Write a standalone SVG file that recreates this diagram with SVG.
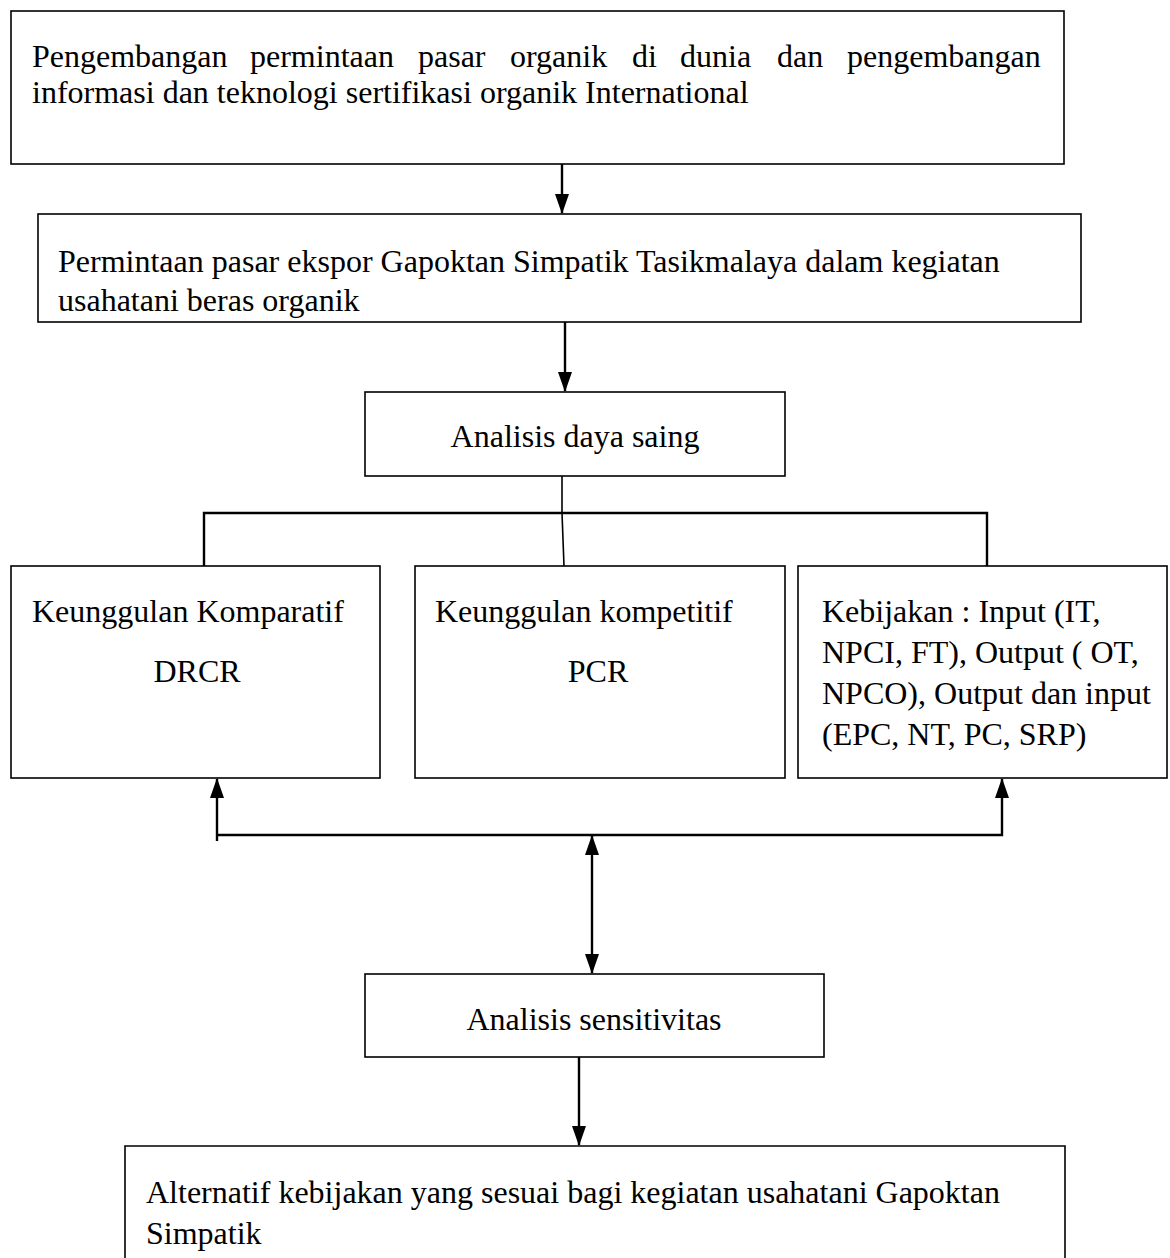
<svg xmlns="http://www.w3.org/2000/svg" width="1170" height="1258" viewBox="0 0 1170 1258">
<style>
.box{fill:#fff;stroke:#000;stroke-width:1.6}
.t{font-family:"Liberation Serif","Times New Roman",serif;font-size:32px;fill:#000}
.c{fill:none;stroke:#000;stroke-width:2.4}
.c1{fill:none;stroke:#000;stroke-width:1.6}
</style>
<defs>
<marker id="ah2" markerUnits="userSpaceOnUse" markerWidth="20" markerHeight="14" refX="19" refY="7" orient="auto-start-reverse" viewBox="0 0 20 14">
<path d="M0,0 L20,7 L0,14 Z" fill="#000"/>
</marker>
<clipPath id="clip2"><rect x="38" y="214" width="1043" height="104"/></clipPath>
</defs>
<rect width="1170" height="1258" fill="#fff"/>

<g id="n1">
<rect class="box" x="11" y="11" width="1053" height="153"/>
<text class="t" y="67"><tspan x="32">Pengembangan</tspan><tspan x="250">permintaan</tspan><tspan x="418">pasar</tspan><tspan x="510">organik</tspan><tspan x="632">di</tspan><tspan x="680">dunia</tspan><tspan x="777">dan</tspan><tspan x="847">pengembangan</tspan></text>
<text class="t" x="32" y="103">informasi dan teknologi sertifikasi organik International</text>
</g>

<g id="n2">
<rect class="box" x="38" y="214" width="1043" height="108"/>
<g clip-path="url(#clip2)">
<text class="t" x="58" y="272">Permintaan pasar ekspor Gapoktan Simpatik Tasikmalaya dalam kegiatan</text>
<text class="t" x="58" y="311">usahatani beras organik</text>
</g>
</g>

<g id="n3">
<rect class="box" x="365" y="392" width="420" height="84"/>
<text class="t" x="575" y="447" text-anchor="middle">Analisis daya saing</text>
</g>

<g id="n4">
<rect class="box" x="11" y="566" width="369" height="212"/>
<text class="t" x="32" y="622">Keunggulan Komparatif</text>
<text class="t" x="197" y="682" text-anchor="middle">DRCR</text>
</g>

<g id="n5">
<rect class="box" x="415" y="566" width="370" height="212"/>
<text class="t" x="435" y="622">Keunggulan kompetitif</text>
<text class="t" x="598" y="682" text-anchor="middle">PCR</text>
</g>

<g id="n6">
<rect class="box" x="798" y="566" width="369" height="212"/>
<text class="t" x="822" y="622">Kebijakan : Input (IT,</text>
<text class="t" x="822" y="663">NPCI, FT), Output ( OT,</text>
<text class="t" x="822" y="704">NPCO), Output dan input</text>
<text class="t" x="822" y="745">(EPC, NT, PC, SRP)</text>
</g>

<g id="n7">
<rect class="box" x="365" y="974" width="459" height="83"/>
<text class="t" x="594" y="1030" text-anchor="middle">Analisis sensitivitas</text>
</g>

<g id="n8">
<path class="box" d="M125,1260 L125,1146 L1065,1146 L1065,1260"/>
<text class="t" x="146" y="1203">Alternatif kebijakan yang sesuai bagi kegiatan usahatani Gapoktan</text>
<text class="t" x="146" y="1244">Simpatik</text>
</g>

<g id="connectors">
<line class="c" x1="562" y1="164" x2="562" y2="213" marker-end="url(#ah2)"/>
<line class="c" x1="565" y1="322" x2="565" y2="391" marker-end="url(#ah2)"/>
<polyline class="c1" points="562,476 562,513 564,566"/>
<polyline class="c" points="204,566 204,513 987,513 987,566"/>
<line class="c" x1="217" y1="841" x2="217" y2="779" marker-end="url(#ah2)"/>
<polyline class="c" points="217,835 1002,835 1002,779" marker-end="url(#ah2)"/>
<line class="c" x1="592" y1="836" x2="592" y2="973" marker-start="url(#ah2)" marker-end="url(#ah2)"/>
<line class="c" x1="579" y1="1057" x2="579" y2="1145" marker-end="url(#ah2)"/>
</g>
</svg>
